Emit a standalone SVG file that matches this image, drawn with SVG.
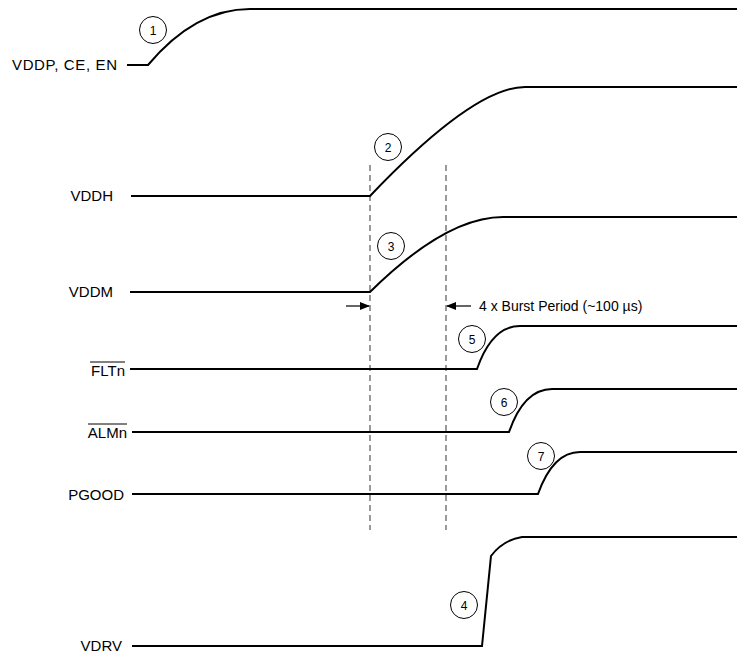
<svg xmlns="http://www.w3.org/2000/svg" width="737" height="653" viewBox="0 0 737 653">
<defs>
<style>
.sig{fill:none;stroke:#000;stroke-width:2}
.lbl{font-family:"Liberation Sans",Arial,sans-serif;font-size:15px;fill:#000;text-anchor:end}
.num{font-family:"Liberation Sans",Arial,sans-serif;font-size:12px;fill:#000;text-anchor:middle}
.circ{fill:#fff;stroke:#000;stroke-width:1}
.dash{stroke:#555;stroke-width:1.2;stroke-dasharray:6 4;fill:none}
.ov{stroke:#000;stroke-width:1}
.arr{stroke:#000;stroke-width:1.2;fill:none}
</style>
<marker id="ah" markerWidth="10" markerHeight="8" refX="9" refY="4" orient="auto" markerUnits="userSpaceOnUse">
<path d="M0,0 L10,4 L0,8 Z" fill="#000"/>
</marker>
</defs>
<rect width="737" height="653" fill="#fff"/>
<g id="connectors">
<line class="dash" x1="370" y1="165" x2="370" y2="530"/>
<line class="dash" x1="446" y1="165" x2="446" y2="530"/>
<line class="arr" x1="346" y1="306" x2="369" y2="306" marker-end="url(#ah)"/>
<line class="arr" x1="471" y1="306" x2="447" y2="306" marker-end="url(#ah)"/>
</g>
<g id="sig-vddp">
<text class="lbl" x="117" y="70" textLength="105" lengthAdjust="spacing">VDDP, CE, EN</text>
<path class="sig" d="M127,65 L148,65 Q195,9 250,9 L737,9"/>
</g>
<g id="sig-vddh">
<text class="lbl" x="113" y="201">VDDH</text>
<path class="sig" d="M131,196 L370,196 Q474,87 525,87 L737,87"/>
</g>
<g id="sig-vddm">
<text class="lbl" x="113" y="297">VDDM</text>
<path class="sig" d="M130,292 L370,292 Q446,217 503,217 L737,217"/>
</g>
<g id="sig-fltn">
<text class="lbl" x="125" y="376">FLTn</text>
<line class="ov" x1="90" y1="362" x2="125" y2="362"/>
<path class="sig" d="M130,369 L477,369 Q492,326 520,326 L737,326"/>
</g>
<g id="sig-almn">
<text class="lbl" x="127" y="438">ALMn</text>
<line class="ov" x1="88" y1="424" x2="127" y2="424"/>
<path class="sig" d="M132,432 L509,432 Q524,389 552,389 L737,389"/>
</g>
<g id="sig-pgood">
<text class="lbl" x="124" y="500">PGOOD</text>
<path class="sig" d="M132,494 L538,494 Q553,452 580,452 L737,452"/>
</g>
<g id="sig-vdrv">
<text class="lbl" x="122" y="651">VDRV</text>
<path class="sig" d="M132,646 L482,646 L491,556 Q503,540 522,537 L737,537"/>
</g>
<g id="mark-1"><circle class="circ" cx="153" cy="30" r="13.5"/><text class="num" x="153" y="34.5">1</text></g>
<g id="mark-2"><circle class="circ" cx="388" cy="147" r="13.5"/><text class="num" x="388" y="151.5">2</text></g>
<g id="mark-3"><circle class="circ" cx="391" cy="246" r="13.5"/><text class="num" x="391" y="250.5">3</text></g>
<g id="mark-5"><circle class="circ" cx="472" cy="339" r="13.5"/><text class="num" x="472" y="343.5">5</text></g>
<g id="mark-6"><circle class="circ" cx="504" cy="402" r="13.5"/><text class="num" x="504" y="406.5">6</text></g>
<g id="mark-7"><circle class="circ" cx="541" cy="456" r="13.5"/><text class="num" x="541" y="460.5">7</text></g>
<g id="mark-4"><circle class="circ" cx="464" cy="605" r="13.5"/><text class="num" x="464" y="609.5">4</text></g>
<g id="note">
<text x="479" y="311" style="font-family:'Liberation Sans',Arial,sans-serif;font-size:14px;fill:#000">4 x Burst Period (~100 µs)</text>
</g>
</svg>
